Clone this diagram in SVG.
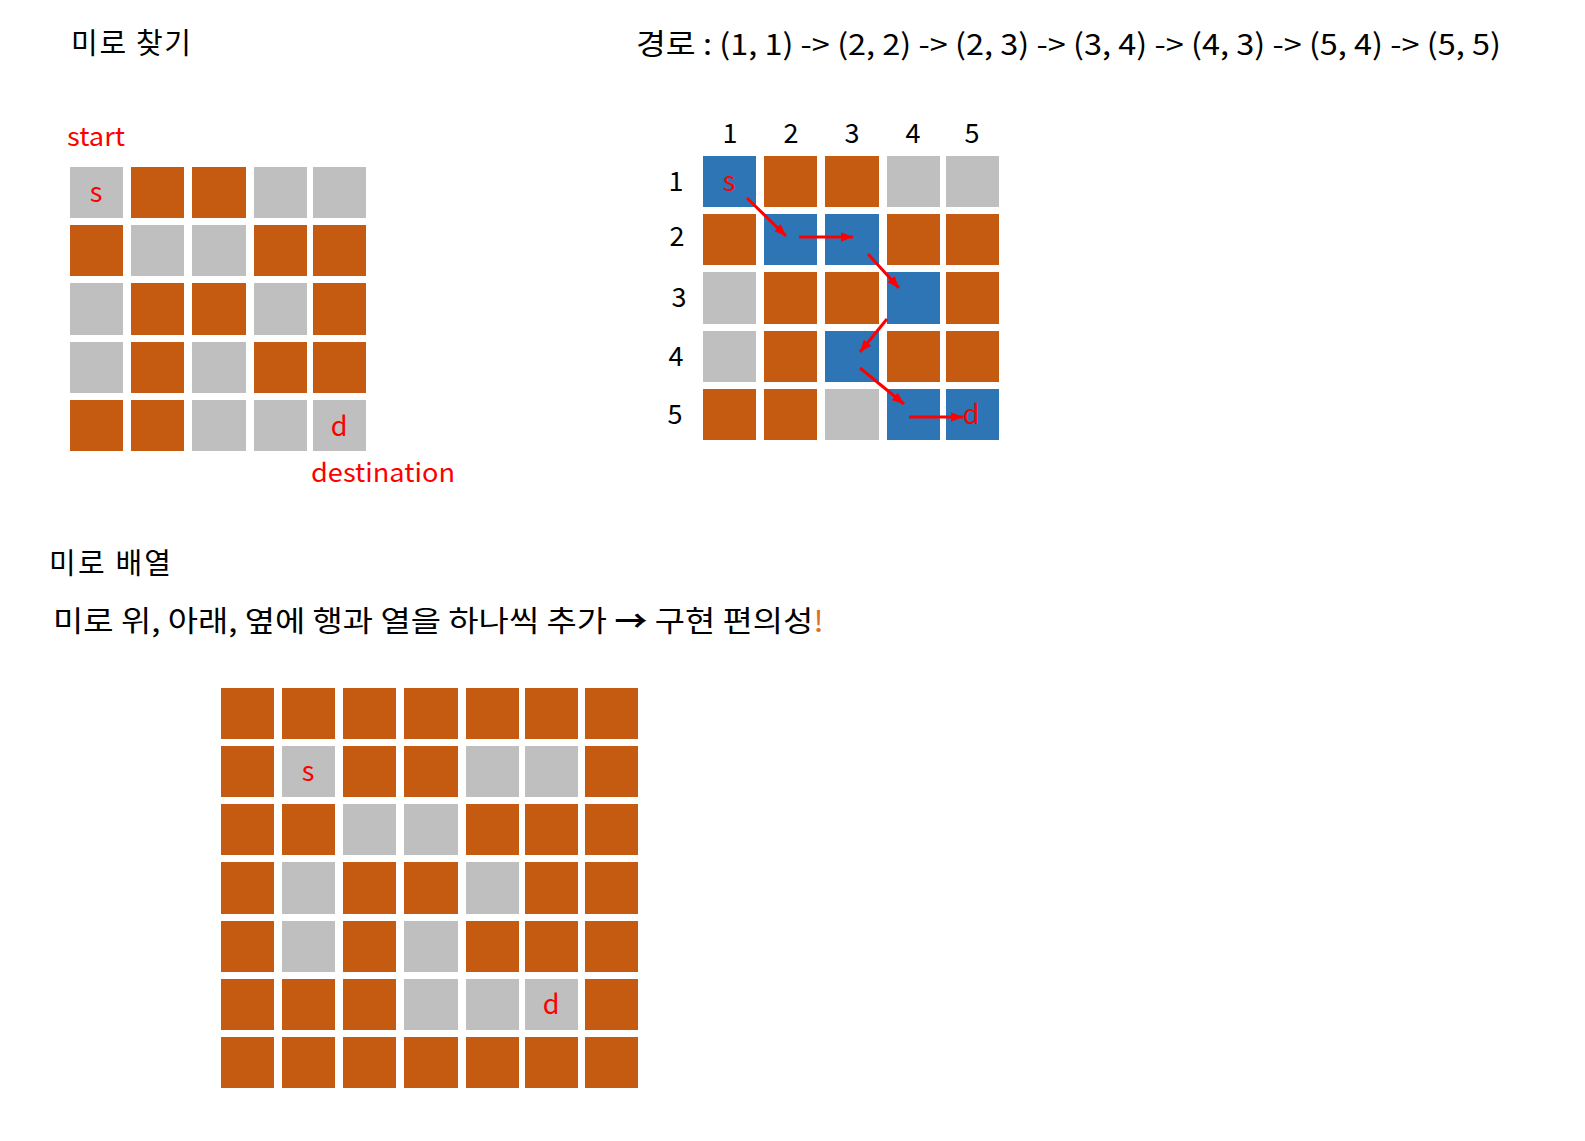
<svg xmlns="http://www.w3.org/2000/svg" width="1585" height="1141" viewBox="0 0 1585 1141">
<style>
text{font-family:"Noto Sans CJK KR","Noto Sans",sans-serif}
.o{fill:#C55A11}
.g{fill:#BFBFBF}
.b{fill:#2E75B6}
.t{font-size:29px;fill:#000}
.r{font-size:26px;fill:#FF0000}
.n{font-size:27px;fill:#000;text-anchor:middle}
.c{font-size:27px;fill:#FF0000;text-anchor:middle}
.a{stroke:#FF0000;stroke-width:3;fill:none;marker-end:url(#ah)}
</style>
<defs>
<marker id="ah" viewBox="0 0 10 8" refX="10" refY="4" markerWidth="4" markerHeight="3.2" orient="auto" markerUnits="strokeWidth">
<path d="M0,0 L10,4 L0,8 z" fill="#FF0000"/>
</marker>
</defs>
<rect width="1585" height="1141" fill="#fff"/>

<g id="titles">
<text class="t" x="71" y="54" textLength="120" lengthAdjust="spacing">미로 찾기</text>
<text class="t" x="636" y="55" textLength="865" lengthAdjust="spacingAndGlyphs">경로 : (1, 1) -&gt; (2, 2) -&gt; (2, 3) -&gt; (3, 4) -&gt; (4, 3) -&gt; (5, 4) -&gt; (5, 5)</text>
<text class="t" x="49" y="574" textLength="122" lengthAdjust="spacing">미로 배열</text>
<text class="t" x="53" y="632" textLength="771" lengthAdjust="spacingAndGlyphs">미로 위, 아래, 옆에 행과 열을 하나씩 추가 <tspan font-weight="bold">→</tspan> 구현 편의성<tspan fill="#E07020">!</tspan></text>
<text class="r" x="67" y="146" textLength="58" lengthAdjust="spacingAndGlyphs">start</text>
<text class="r" x="311" y="482" textLength="144" lengthAdjust="spacingAndGlyphs">destination</text>
</g>

<g id="maze1">
<rect class="g" x="70" y="167" width="53" height="51"/>
<rect class="o" x="131" y="167" width="53" height="51"/>
<rect class="o" x="192" y="167" width="54" height="51"/>
<rect class="g" x="254" y="167" width="53" height="51"/>
<rect class="g" x="313" y="167" width="53" height="51"/>
<rect class="o" x="70" y="225" width="53" height="51"/>
<rect class="g" x="131" y="225" width="53" height="51"/>
<rect class="g" x="192" y="225" width="54" height="51"/>
<rect class="o" x="254" y="225" width="53" height="51"/>
<rect class="o" x="313" y="225" width="53" height="51"/>
<rect class="g" x="70" y="283" width="53" height="52"/>
<rect class="o" x="131" y="283" width="53" height="52"/>
<rect class="o" x="192" y="283" width="54" height="52"/>
<rect class="g" x="254" y="283" width="53" height="52"/>
<rect class="o" x="313" y="283" width="53" height="52"/>
<rect class="g" x="70" y="342" width="53" height="51"/>
<rect class="o" x="131" y="342" width="53" height="51"/>
<rect class="g" x="192" y="342" width="54" height="51"/>
<rect class="o" x="254" y="342" width="53" height="51"/>
<rect class="o" x="313" y="342" width="53" height="51"/>
<rect class="o" x="70" y="400" width="53" height="51"/>
<rect class="o" x="131" y="400" width="53" height="51"/>
<rect class="g" x="192" y="400" width="54" height="51"/>
<rect class="g" x="254" y="400" width="53" height="51"/>
<rect class="g" x="313" y="400" width="53" height="51"/>
<text class="c" x="96" y="202">s</text>
<text class="c" x="339" y="436">d</text>
</g>

<g id="maze2">
<rect class="b" x="703" y="156" width="53" height="51"/>
<rect class="o" x="764" y="156" width="53" height="51"/>
<rect class="o" x="825" y="156" width="54" height="51"/>
<rect class="g" x="887" y="156" width="53" height="51"/>
<rect class="g" x="946" y="156" width="53" height="51"/>
<rect class="o" x="703" y="214" width="53" height="51"/>
<rect class="b" x="764" y="214" width="53" height="51"/>
<rect class="b" x="825" y="214" width="54" height="51"/>
<rect class="o" x="887" y="214" width="53" height="51"/>
<rect class="o" x="946" y="214" width="53" height="51"/>
<rect class="g" x="703" y="272" width="53" height="52"/>
<rect class="o" x="764" y="272" width="53" height="52"/>
<rect class="o" x="825" y="272" width="54" height="52"/>
<rect class="b" x="887" y="272" width="53" height="52"/>
<rect class="o" x="946" y="272" width="53" height="52"/>
<rect class="g" x="703" y="331" width="53" height="51"/>
<rect class="o" x="764" y="331" width="53" height="51"/>
<rect class="b" x="825" y="331" width="54" height="51"/>
<rect class="o" x="887" y="331" width="53" height="51"/>
<rect class="o" x="946" y="331" width="53" height="51"/>
<rect class="o" x="703" y="389" width="53" height="51"/>
<rect class="o" x="764" y="389" width="53" height="51"/>
<rect class="g" x="825" y="389" width="54" height="51"/>
<rect class="b" x="887" y="389" width="53" height="51"/>
<rect class="b" x="946" y="389" width="53" height="51"/>
<text class="c" x="729" y="191">s</text>
<text class="c" x="971" y="424">d</text>
</g>

<g id="labels2">
<text class="n" x="730" y="143">1</text>
<text class="n" x="791" y="143">2</text>
<text class="n" x="852" y="143">3</text>
<text class="n" x="913" y="143">4</text>
<text class="n" x="972" y="143">5</text>
<text class="n" x="676" y="191">1</text>
<text class="n" x="677" y="246">2</text>
<text class="n" x="679" y="307">3</text>
<text class="n" x="676" y="366">4</text>
<text class="n" x="675" y="424">5</text>
</g>

<g id="connectors">
<line class="a" x1="747" y1="198" x2="786" y2="236"/>
<line class="a" x1="799" y1="237" x2="853" y2="237"/>
<line class="a" x1="868" y1="254" x2="899" y2="288"/>
<line class="a" x1="887" y1="319" x2="860" y2="352"/>
<line class="a" x1="860" y1="368" x2="904" y2="404"/>
<line class="a" x1="909" y1="417" x2="963" y2="417"/>
</g>

<g id="maze3">
<rect class="o" x="221" y="688" width="53" height="51"/>
<rect class="o" x="282" y="688" width="53" height="51"/>
<rect class="o" x="343" y="688" width="53" height="51"/>
<rect class="o" x="404" y="688" width="54" height="51"/>
<rect class="o" x="466" y="688" width="53" height="51"/>
<rect class="o" x="525" y="688" width="53" height="51"/>
<rect class="o" x="585" y="688" width="53" height="51"/>

<rect class="o" x="221" y="746" width="53" height="51"/>
<rect class="g" x="282" y="746" width="53" height="51"/>
<rect class="o" x="343" y="746" width="53" height="51"/>
<rect class="o" x="404" y="746" width="54" height="51"/>
<rect class="g" x="466" y="746" width="53" height="51"/>
<rect class="g" x="525" y="746" width="53" height="51"/>
<rect class="o" x="585" y="746" width="53" height="51"/>

<rect class="o" x="221" y="804" width="53" height="51"/>
<rect class="o" x="282" y="804" width="53" height="51"/>
<rect class="g" x="343" y="804" width="53" height="51"/>
<rect class="g" x="404" y="804" width="54" height="51"/>
<rect class="o" x="466" y="804" width="53" height="51"/>
<rect class="o" x="525" y="804" width="53" height="51"/>
<rect class="o" x="585" y="804" width="53" height="51"/>

<rect class="o" x="221" y="862" width="53" height="52"/>
<rect class="g" x="282" y="862" width="53" height="52"/>
<rect class="o" x="343" y="862" width="53" height="52"/>
<rect class="o" x="404" y="862" width="54" height="52"/>
<rect class="g" x="466" y="862" width="53" height="52"/>
<rect class="o" x="525" y="862" width="53" height="52"/>
<rect class="o" x="585" y="862" width="53" height="52"/>

<rect class="o" x="221" y="921" width="53" height="51"/>
<rect class="g" x="282" y="921" width="53" height="51"/>
<rect class="o" x="343" y="921" width="53" height="51"/>
<rect class="g" x="404" y="921" width="54" height="51"/>
<rect class="o" x="466" y="921" width="53" height="51"/>
<rect class="o" x="525" y="921" width="53" height="51"/>
<rect class="o" x="585" y="921" width="53" height="51"/>

<rect class="o" x="221" y="979" width="53" height="51"/>
<rect class="o" x="282" y="979" width="53" height="51"/>
<rect class="o" x="343" y="979" width="53" height="51"/>
<rect class="g" x="404" y="979" width="54" height="51"/>
<rect class="g" x="466" y="979" width="53" height="51"/>
<rect class="g" x="525" y="979" width="53" height="51"/>
<rect class="o" x="585" y="979" width="53" height="51"/>

<rect class="o" x="221" y="1037" width="53" height="51"/>
<rect class="o" x="282" y="1037" width="53" height="51"/>
<rect class="o" x="343" y="1037" width="53" height="51"/>
<rect class="o" x="404" y="1037" width="54" height="51"/>
<rect class="o" x="466" y="1037" width="53" height="51"/>
<rect class="o" x="525" y="1037" width="53" height="51"/>
<rect class="o" x="585" y="1037" width="53" height="51"/>
<text class="c" x="308" y="781">s</text>
<text class="c" x="551" y="1014">d</text>
</g>
</svg>
